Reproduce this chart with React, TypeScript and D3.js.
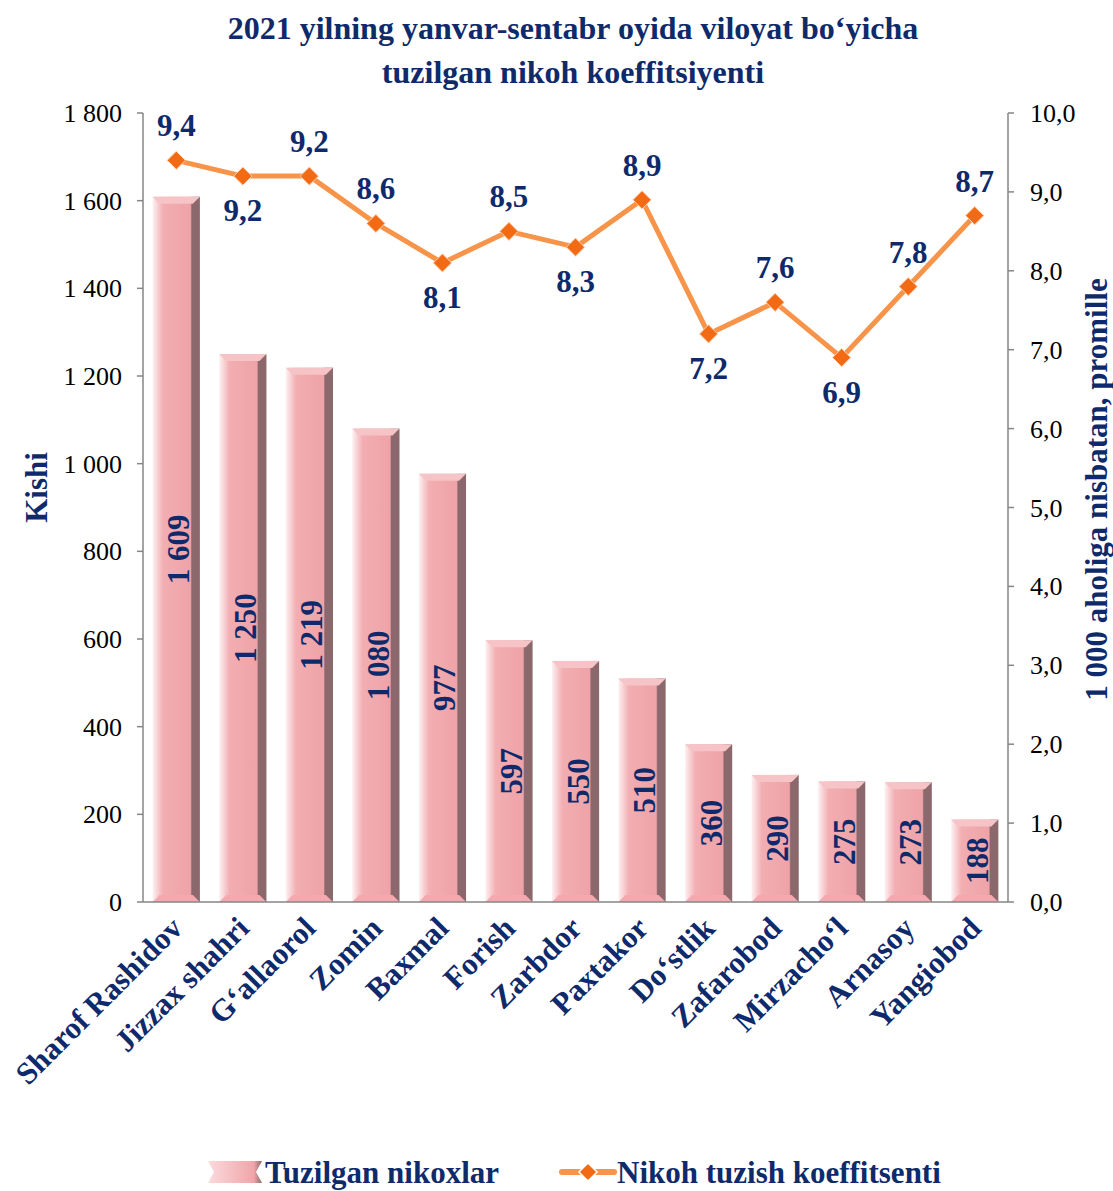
import * as d3 from "d3";
import React from "react";

const districts = [
  "Sharof Rashidov", "Jizzax shahri", "G‘allaorol", "Zomin", "Baxmal", "Forish",
  "Zarbdor", "Paxtakor", "Do‘stlik", "Zafarobod", "Mirzacho‘l", "Arnasoy", "Yangiobod",
];
const marriages = [1609, 1250, 1219, 1080, 977, 597, 550, 510, 360, 290, 275, 273, 188];
const rate = [9.4, 9.2, 9.2, 8.6, 8.1, 8.5, 8.3, 8.9, 7.2, 7.6, 6.9, 7.8, 8.7];
// true = label above the point
const rateLabelUp = [true, false, true, true, false, true, false, true, false, true, false, true, true];
const leftTicks = [0, 200, 400, 600, 800, 1000, 1200, 1400, 1600, 1800];
const rightTicks = [0, 1, 2, 3, 4, 5, 6, 7, 8, 9, 10];

const W = 1113, H = 1191;
const left = 143, right = 1008, top = 113, bottom = 902;
const navy = "#0f2a6b";
const font = "'Liberation Serif', 'Times New Roman', serif";

const fmtThousands = (v: number) => {
  const s = String(v);
  return s.length > 3 ? s.slice(0, -3) + " " + s.slice(-3) : s;
};
const fmtDec = (v: number) => v.toFixed(1).replace(".", ",");

export default function App() {
  const x = d3.scaleBand<string>().domain(districts).range([left, right]).paddingInner(0.29).paddingOuter(0.145);
  const y = d3.scaleLinear().domain([0, 1800]).range([bottom, top]);
  const y2 = d3.scaleLinear().domain([0, 10]).range([bottom, top]);
  const cx = (d: string) => (x(d) as number) + x.bandwidth() / 2;
  const bw = x.bandwidth();

  const linePath = d3.line<number>().x((_, i) => cx(districts[i])).y((d) => y2(d))(rate) as string;
  const diamond = d3.symbol().type(d3.symbolDiamond2 ?? d3.symbolDiamond).size(210)() as string;

  return (
    <svg width={W} height={H} style={{ position: "absolute", left: 0, top: 0 }} fontFamily={font}>
      <defs>
        <linearGradient id="barg" x1="0" x2="1" y1="0" y2="0">
          <stop offset="0" stopColor="#fdf1f2" />
          <stop offset="0.22" stopColor="#f2aeb2" />
          <stop offset="0.8" stopColor="#eea3a8" />
          <stop offset="0.83" stopColor="#8a686b" />
          <stop offset="1" stopColor="#8a686b" />
        </linearGradient>
        <linearGradient id="legb" x1="0" x2="1" y1="0" y2="0">
          <stop offset="0" stopColor="#fbdadd" />
          <stop offset="0.85" stopColor="#f0a5aa" />
          <stop offset="1" stopColor="#8a686b" />
        </linearGradient>
      </defs>
      <rect width={W} height={H} fill="#fff" />

      <text x={573} y={39} textAnchor="middle" fontSize={32} fontWeight="bold" fill={navy}>
        2021 yilning yanvar-sentabr oyida viloyat bo‘yicha
      </text>
      <text x={573} y={83} textAnchor="middle" fontSize={32} fontWeight="bold" fill={navy}>
        tuzilgan nikoh koeffitsiyenti
      </text>

      {/* bars */}
      {marriages.map((v, i) => {
        const d = districts[i];
        const x0 = x(d) as number;
        const yt = y(v);
        const b = 7;
        return (
          <g key={d}>
            <rect x={x0} y={yt} width={bw} height={bottom - yt} fill="url(#barg)" />
            <polygon points={`${x0},${yt} ${x0 + bw},${yt} ${x0 + bw - b},${yt + b} ${x0 + b},${yt + b}`} fill="#f6c3c6" />
            <polygon points={`${x0},${bottom} ${x0 + bw},${bottom} ${x0 + bw - b},${bottom - b} ${x0 + b},${bottom - b}`} fill="#f4a9ae" />
            <text
              transform={`translate(${cx(d) + 13},${(yt + bottom) / 2}) rotate(-90)`}
              textAnchor="middle"
              fontSize={31}
              fontWeight="bold"
              fill={navy}
            >
              {fmtThousands(v)}
            </text>
          </g>
        );
      })}

      {/* axes */}
      <line x1={left} x2={left} y1={top} y2={bottom} stroke="#868686" strokeWidth={1.5} />
      <line x1={right} x2={right} y1={top} y2={bottom} stroke="#868686" strokeWidth={1.5} />
      <line x1={left} x2={right} y1={bottom} y2={bottom} stroke="#868686" strokeWidth={1.5} />
      {leftTicks.map((t) => (
        <g key={"l" + t}>
          <line x1={left - 6} x2={left} y1={y(t)} y2={y(t)} stroke="#868686" strokeWidth={1.5} />
          <text x={left - 21} y={y(t) + 9} textAnchor="end" fontSize={26}>
            {fmtThousands(t)}
          </text>
        </g>
      ))}
      {rightTicks.map((t) => (
        <g key={"r" + t}>
          <line x1={right} x2={right + 6} y1={y2(t)} y2={y2(t)} stroke="#868686" strokeWidth={1.5} />
          <text x={right + 22} y={y2(t) + 9} textAnchor="start" fontSize={26}>
            {fmtDec(t)}
          </text>
        </g>
      ))}

      <text transform={`translate(47,${(top + bottom) / 2 - 20}) rotate(-90)`} textAnchor="middle" fontSize={31} fontWeight="bold" fill={navy}>
        Kishi
      </text>
      <text transform={`translate(1107,${(top + bottom) / 2 - 18}) rotate(-90)`} textAnchor="middle" fontSize={31} fontWeight="bold" fill={navy}>
        1 000 aholiga nisbatan, promille
      </text>

      {/* category labels */}
      {districts.map((d) => (
        <text
          key={"c" + d}
          transform={`translate(${cx(d) + 8},${bottom + 28}) rotate(-45)`}
          textAnchor="end"
          fontSize={31}
          fontWeight="bold"
          fill={navy}
        >
          {d}
        </text>
      ))}

      {/* line series */}
      <path d={linePath} fill="none" stroke="#f7944a" strokeWidth={5} strokeLinejoin="round" />
      {rate.map((v, i) => (
        <g key={"p" + i}>
          <path d={diamond} transform={`translate(${cx(districts[i])},${y2(v)})`} fill="#f26b14" stroke="#fbd1b0" strokeWidth={1} />
          <text
            x={cx(districts[i])}
            y={y2(v) + (rateLabelUp[i] ? -24 : 45)}
            textAnchor="middle"
            fontSize={31}
            fontWeight="bold"
            fill={navy}
          >
            {fmtDec(v)}
          </text>
        </g>
      ))}

      {/* legend */}
      <g transform="translate(0,1172)">
        <polygon points="208,-11 262,-11 256,0 262,11 208,11 214,0" fill="url(#legb)" />
        <text x={265} y={11} fontSize={31} fontWeight="bold" fill={navy}>
          Tuzilgan nikoxlar
        </text>
        <line x1={562} x2={614} y1={0} y2={0} stroke="#f7944a" strokeWidth={6} strokeLinecap="round" />
        <path d={diamond} transform="translate(588,0)" fill="#f26b14" stroke="#fff" strokeWidth={1.5} />
        <text x={617} y={11} fontSize={31} fontWeight="bold" fill={navy}>
          Nikoh tuzish koeffitsenti
        </text>
      </g>
    </svg>
  );
}
